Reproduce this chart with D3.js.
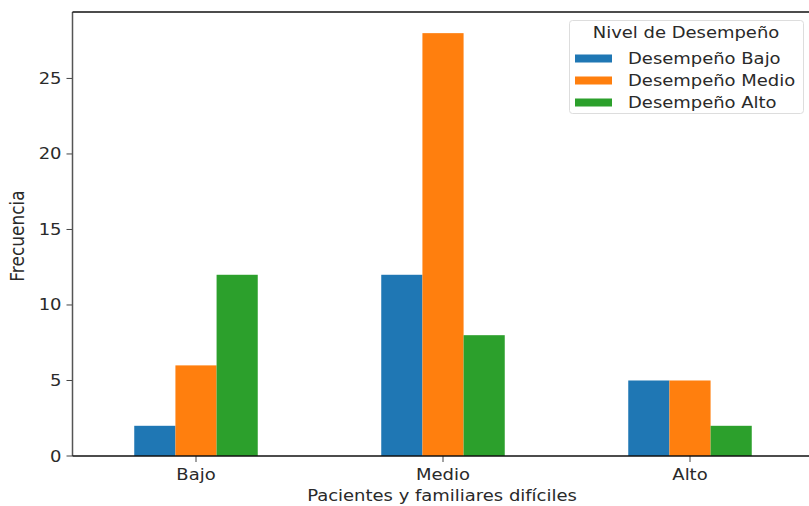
<!DOCTYPE html>
<html><head><meta charset="utf-8">
<script src="https://cdn.jsdelivr.net/npm/d3@7"></script>
<style>body{margin:0;background:#fff}svg{display:block}text{font-family:"DejaVu Sans",sans-serif;fill:#2a2a2a}</style>
</head><body>
<svg id="c" width="809" height="506"></svg>
<script>
const categories = ["Bajo", "Medio", "Alto"];
const seriesNames = ["Desempeño Bajo", "Desempeño Medio", "Desempeño Alto"];
const valuesBajo = [2, 12, 5];
const valuesMedio = [6, 28, 5];
const valuesAlto = [12, 8, 2];
const yTicks = [0, 5, 10, 15, 20, 25];
const colors = ["#1f77b4", "#ff7f0e", "#2ca02c"];
const series = [valuesBajo, valuesMedio, valuesAlto];

const svg = d3.select("#c");
const L = 72.5, R = 813.5, T = 12, B = 456;
const SX = 1.16, FS = 15.5;
const x = d3.scaleLinear().domain([-0.5, 2.5]).range([L, R]);
const y = d3.scaleLinear().domain([0, 28 * 1.05]).range([B, T]);
const bw = 0.5 / 3;

series.forEach((vals, si) => {
  svg.append("g").selectAll("rect").data(vals).join("rect")
    .attr("x", (d, i) => x(i - 0.25 + si * bw))
    .attr("width", x(bw) - x(0))
    .attr("y", d => y(d))
    .attr("height", d => y(0) - y(d))
    .attr("fill", colors[si]);
});

function txt(g, xx, yy, s, anchor, extra) {
  return g.append("text")
    .attr("transform", `translate(${xx},${yy}) scale(${SX},1)` + (extra || ""))
    .attr("text-anchor", anchor).attr("font-size", FS).text(s);
}

// y ticks
yTicks.forEach(t => {
  svg.append("line").attr("x1", L - 6).attr("x2", L).attr("y1", y(t)).attr("y2", y(t)).attr("stroke", "#444").attr("stroke-width", 1);
  txt(svg, L - 11, y(t) + 5.5, String(t), "end");
});
// x ticks
categories.forEach((c, i) => {
  svg.append("line").attr("x1", x(i)).attr("x2", x(i)).attr("y1", B).attr("y2", B + 6).attr("stroke", "#444").attr("stroke-width", 1);
  txt(svg, x(i), B + 24, c, "middle");
});

// spines
svg.append("line").attr("x1", L).attr("x2", L).attr("y1", T).attr("y2", B).attr("stroke", "#555").attr("stroke-width", 1.5);
svg.append("line").attr("x1", L).attr("x2", R).attr("y1", T).attr("y2", T).attr("stroke", "#111").attr("stroke-width", 1.5);
svg.append("line").attr("x1", L).attr("x2", R).attr("y1", B).attr("y2", B).attr("stroke", "#111").attr("stroke-width", 1.5);
svg.append("line").attr("x1", R).attr("x2", R).attr("y1", T).attr("y2", B).attr("stroke", "#111").attr("stroke-width", 1.5);

// axis labels
txt(svg, (L + R) / 2 - 1, 501, "Pacientes y familiares difíciles", "middle");
svg.append("text").attr("transform", `translate(24,${(T + B) / 2 + 2}) scale(1.1,1) rotate(-90)`)
  .attr("text-anchor", "middle").attr("font-size", 17).text("Frecuencia");

// legend
const lg = svg.append("g");
lg.append("rect").attr("x", 569.5).attr("y", 20.5).attr("width", 234).attr("height", 93).attr("rx", 3)
  .attr("fill", "#fff").attr("fill-opacity", 0.8).attr("stroke", "#ddd");
txt(lg, 686, 38, "Nivel de Desempeño", "middle");
seriesNames.forEach((n, i) => {
  const cy = 58.5 + i * 22;
  lg.append("rect").attr("x", 575).attr("y", cy - 4).attr("width", 37).attr("height", 8).attr("fill", colors[i]);
  txt(lg, 628, cy + 5.5, n, "start");
});
</script>
</body></html>
